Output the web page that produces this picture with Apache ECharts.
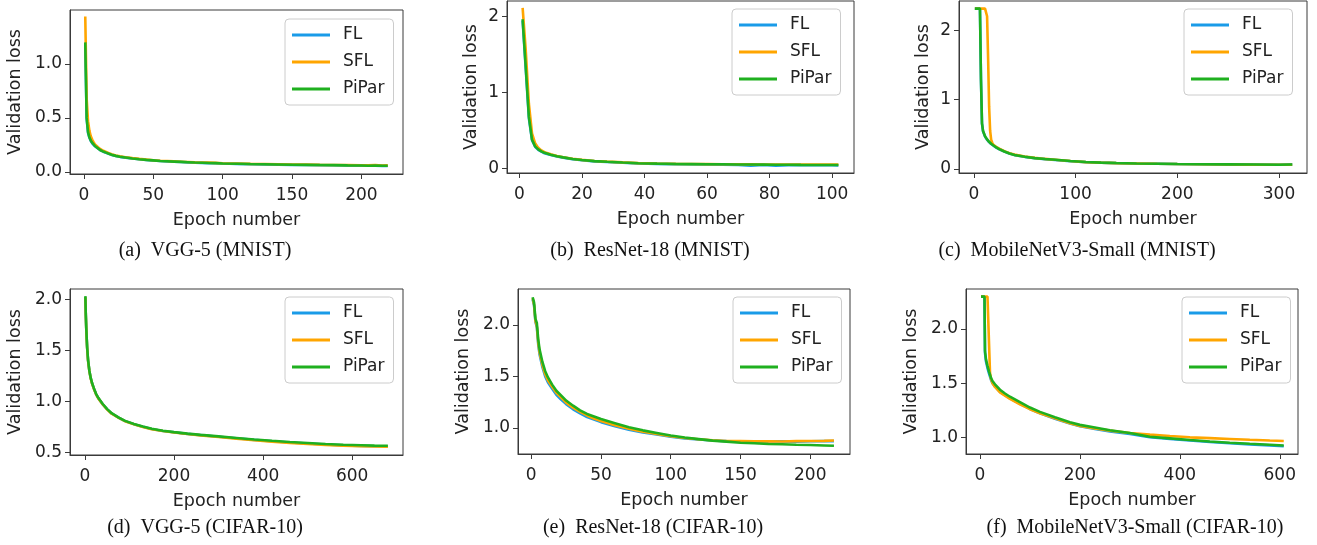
<!DOCTYPE html>
<html><head><meta charset="utf-8">
<script src="https://cdn.jsdelivr.net/npm/echarts@6/dist/echarts.min.js"></script>
<style>html,body{margin:0;padding:0;background:#fff}#c{width:1317px;height:545px}</style>
</head><body><div id="c"></div>
<script>
// ---------- (a) VGG-5 (MNIST) ----------
const aEpoch = [1,2,3,4,5,6,7,8,10,12,14,16,18,20,23,26,30,35,40,45,50,55,60,65,70,75,80,85,90,95,100,110,120,130,140,150,160,170,180,190,200,205,210,215,219];
const aFL    = [1.18,0.49,0.36,0.315,0.285,0.265,0.25,0.237,0.218,0.199,0.187,0.177,0.167,0.157,0.147,0.139,0.132,0.123,0.116,0.11,0.105,0.1,0.097,0.094,0.091,0.088,0.085,0.083,0.081,0.08,0.077,0.074,0.071,0.069,0.067,0.065,0.064,0.062,0.061,0.059,0.058,0.056,0.057,0.055,0.054];
const aSFL   = [1.44,0.68,0.47,0.38,0.33,0.30,0.275,0.255,0.23,0.21,0.195,0.184,0.173,0.163,0.152,0.144,0.136,0.127,0.12,0.114,0.108,0.103,0.1,0.097,0.094,0.091,0.088,0.086,0.085,0.083,0.08,0.077,0.074,0.072,0.07,0.068,0.067,0.065,0.064,0.063,0.061,0.06,0.062,0.059,0.06];
const aPiPar = [1.20,0.50,0.37,0.32,0.29,0.27,0.255,0.24,0.22,0.20,0.188,0.178,0.168,0.158,0.148,0.14,0.133,0.124,0.117,0.111,0.106,0.101,0.098,0.095,0.092,0.089,0.086,0.084,0.082,0.081,0.078,0.075,0.072,0.07,0.068,0.066,0.065,0.063,0.062,0.06,0.059,0.057,0.058,0.056,0.056];
const aXTicks = [0,50,100,150,200];
const aYTicks = [0,0.5,1.0];

// ---------- (b) ResNet-18 (MNIST) ----------
const bEpoch = [1,2,3,4,5,6,7,8,10,12,14,17,20,24,28,33,38,44,50,55,60,65,70,74,78,82,86,90,95,100,102];
const bFL    = [1.94,1.3,0.66,0.37,0.285,0.245,0.22,0.2,0.176,0.157,0.142,0.122,0.107,0.093,0.084,0.074,0.066,0.06,0.056,0.054,0.052,0.05,0.046,0.036,0.047,0.035,0.044,0.043,0.042,0.041,0.04];
const bSFL   = [2.11,1.55,0.85,0.46,0.33,0.27,0.237,0.213,0.185,0.164,0.148,0.128,0.112,0.098,0.089,0.079,0.07,0.064,0.06,0.058,0.057,0.055,0.054,0.053,0.052,0.051,0.05,0.051,0.05,0.05,0.05];
const bPiPar = [1.96,1.33,0.68,0.38,0.29,0.25,0.225,0.205,0.18,0.16,0.145,0.125,0.11,0.096,0.087,0.077,0.069,0.063,0.059,0.057,0.055,0.054,0.052,0.051,0.05,0.049,0.048,0.047,0.046,0.046,0.045];
const bXTicks = [0,20,40,60,80,100];
const bYTicks = [0,1,2];

// ---------- (c) MobileNetV3-Small (MNIST) ----------
const cEpoch = [1,3,6,7,8,9,11,12,13,14,15,16,17,18,19,20,22,25,30,35,40,50,60,70,80,95,110,125,140,160,180,200,225,250,275,300,313];
const cFL    = [2.31,2.31,2.31,1.28,0.65,0.54,0.465,0.44,0.42,0.4,0.385,0.37,0.358,0.346,0.336,0.326,0.306,0.282,0.248,0.22,0.198,0.173,0.153,0.14,0.128,0.11,0.097,0.089,0.083,0.077,0.073,0.069,0.066,0.064,0.061,0.059,0.064];
const cSFL   = [2.31,2.31,2.31,2.31,2.31,2.31,2.31,2.30,2.2,1.6,0.9,0.55,0.42,0.38,0.35,0.335,0.315,0.29,0.255,0.226,0.205,0.178,0.158,0.143,0.132,0.113,0.097,0.089,0.083,0.078,0.073,0.069,0.066,0.063,0.06,0.058,0.058];
const cPiPar = [2.31,2.31,2.31,1.30,0.66,0.55,0.47,0.445,0.425,0.405,0.39,0.375,0.362,0.35,0.34,0.33,0.31,0.285,0.25,0.222,0.2,0.175,0.155,0.142,0.13,0.112,0.098,0.09,0.084,0.078,0.074,0.07,0.067,0.065,0.062,0.06,0.063];
const cXTicks = [0,100,200,300];
const cYTicks = [0,1,2];

// ---------- (d) VGG-5 (CIFAR-10) ----------
const dEpoch = [1,2,3,4,5,7,10,13,16,20,25,30,40,50,60,75,90,110,130,150,175,200,230,260,300,340,380,420,460,500,540,580,620,650,680];
const dFL    = [2.02,1.84,1.715,1.615,1.525,1.405,1.298,1.228,1.178,1.128,1.072,1.032,0.972,0.922,0.882,0.843,0.808,0.778,0.752,0.73,0.711,0.698,0.683,0.67,0.655,0.64,0.624,0.61,0.598,0.588,0.578,0.57,0.565,0.562,0.56];
const dSFL   = [2.02,1.84,1.71,1.61,1.52,1.40,1.295,1.225,1.175,1.125,1.07,1.03,0.97,0.92,0.88,0.842,0.807,0.776,0.75,0.728,0.71,0.696,0.681,0.668,0.652,0.636,0.62,0.607,0.594,0.584,0.574,0.567,0.562,0.56,0.558];
const dPiPar = [2.03,1.85,1.72,1.62,1.53,1.41,1.30,1.23,1.18,1.13,1.075,1.035,0.975,0.925,0.885,0.845,0.81,0.78,0.755,0.732,0.713,0.70,0.685,0.673,0.658,0.643,0.628,0.615,0.603,0.594,0.584,0.577,0.572,0.568,0.566];
const dXTicks = [0,200,400,600];
const dYTicks = [0.5,1.0,1.5,2.0];

// ---------- (e) ResNet-18 (CIFAR-10) ----------
const eEpoch = [1,2,3,4,5,6,8,10,12,15,18,21,25,30,35,40,45,50,60,70,80,90,100,110,120,130,140,150,160,170,180,190,200,210,217];
const eFL    = [2.25,2.19,2.03,1.98,1.81,1.71,1.59,1.5,1.44,1.38,1.32,1.28,1.23,1.18,1.14,1.105,1.08,1.055,1.015,0.98,0.955,0.935,0.912,0.897,0.886,0.876,0.87,0.868,0.865,0.866,0.868,0.864,0.869,0.871,0.87];
const eSFL   = [2.26,2.2,2.04,1.99,1.83,1.73,1.61,1.52,1.46,1.4,1.34,1.3,1.245,1.195,1.155,1.12,1.09,1.065,1.025,0.99,0.962,0.94,0.917,0.9,0.888,0.878,0.872,0.87,0.868,0.869,0.866,0.87,0.872,0.873,0.877];
const ePiPar = [2.27,2.22,2.06,2.02,1.86,1.76,1.64,1.55,1.49,1.42,1.36,1.32,1.265,1.215,1.17,1.135,1.11,1.085,1.045,1.005,0.975,0.95,0.925,0.905,0.89,0.875,0.865,0.855,0.85,0.843,0.84,0.835,0.832,0.828,0.825];
const eXTicks = [0,50,100,150,200];
const eYTicks = [1.0,1.5,2.0];

// ---------- (f) MobileNetV3-Small (CIFAR-10) ----------
const fEpoch = [2,5,9,10,12,15,18,20,22,25,30,40,50,60,80,100,120,150,180,200,230,260,300,340,380,420,460,500,540,580,608];
const fFL    = [2.30,2.30,2.30,1.78,1.70,1.64,1.59,1.56,1.53,1.50,1.47,1.42,1.39,1.36,1.31,1.262,1.222,1.172,1.128,1.103,1.078,1.055,1.03,1.0,0.985,0.97,0.957,0.945,0.935,0.926,0.918];
const fSFL   = [2.30,2.30,2.30,2.30,2.30,2.30,2.30,1.60,1.54,1.5,1.465,1.415,1.385,1.355,1.305,1.26,1.222,1.175,1.13,1.105,1.082,1.062,1.04,1.025,1.012,1.0,0.993,0.985,0.977,0.97,0.966];
const fPiPar = [2.30,2.30,2.30,1.80,1.72,1.66,1.61,1.58,1.55,1.52,1.49,1.44,1.405,1.375,1.325,1.275,1.235,1.185,1.14,1.115,1.09,1.065,1.04,1.005,0.99,0.975,0.962,0.95,0.94,0.932,0.924];
const fXTicks = [0,200,400,600];
const fYTicks = [1.0,1.5,2.0];

const seriesNames = ['FL','SFL','PiPar'];
const captions = ['(a)  VGG-5 (MNIST)','(b)  ResNet-18 (MNIST)','(c)  MobileNetV3-Small (MNIST)','(d)  VGG-5 (CIFAR-10)','(e)  ResNet-18 (CIFAR-10)','(f)  MobileNetV3-Small (CIFAR-10)'];
const xTitle = 'Epoch number';
const yTitle = 'Validation loss';

// ---------- layout ----------
const colors = {FL:'#1a9be8', SFL:'#ffa500', PiPar:'#1fb01f'};
const SANS = 'DejaVu Sans';
const panels = [
  {ep:aEpoch, v:[aFL,aSFL,aPiPar], xt:aXTicks, yt:aYTicks, yd:1, g:[70,10,333,164], xr:[-10,230], yr:[-0.02,1.50], lg:[285,19], cap:[205,251]},
  {ep:bEpoch, v:[bFL,bSFL,bPiPar], xt:bXTicks, yt:bYTicks, yd:0, g:[507,1,347,172], xr:[-4,107], yr:[-0.06,2.2], lg:[732,9], cap:[650,251]},
  {ep:cEpoch, v:[cFL,cSFL,cPiPar], xt:cXTicks, yt:cYTicks, yd:0, g:[959,1,348,172], xr:[-14.6,327.5], yr:[-0.06,2.42], lg:[1184,9], cap:[1077,251]},
  {ep:dEpoch, v:[dFL,dSFL,dPiPar], xt:dXTicks, yt:dYTicks, yd:1, g:[70,289,333,166], xr:[-33.5,714], yr:[0.476,2.1], lg:[285,297], cap:[205,528]},
  {ep:eEpoch, v:[eFL,eSFL,ePiPar], xt:eXTicks, yt:eYTicks, yd:1, g:[518,289,332,165], xr:[-9.5,228.5], yr:[0.745,2.35], lg:[733,297], cap:[653,528]},
  {ep:fEpoch, v:[fFL,fSFL,fPiPar], xt:fXTicks, yt:fYTicks, yd:1, g:[966,289,332,165], xr:[-28,636.5], yr:[0.846,2.37], lg:[1182,297], cap:[1135,528]}
];

const grid=[], xAxis=[], yAxis=[], series=[], legend=[], graphic=[];
panels.forEach((p,i)=>{
  grid.push({left:p.g[0], top:p.g[1], width:p.g[2], height:p.g[3], show:true, borderColor:'#3a3a3a', borderWidth:1, backgroundColor:'transparent'});
  xAxis.push({gridIndex:i, type:'value', min:p.xr[0], max:p.xr[1],
    axisLine:{show:true,onZero:false,lineStyle:{color:'#3a3a3a',width:1}},
    axisTick:{show:true,length:5,customValues:p.xt,lineStyle:{color:'#3a3a3a'}},
    axisLabel:{customValues:p.xt,fontSize:17,color:'#222',margin:13,fontFamily:SANS},
    splitLine:{show:false},
    name:xTitle, nameLocation:'middle', nameGap:37, nameTextStyle:{fontSize:17.5,color:'#222',fontFamily:SANS}});
  yAxis.push({gridIndex:i, type:'value', min:p.yr[0], max:p.yr[1],
    axisLine:{show:true,onZero:false,lineStyle:{color:'#3a3a3a',width:1}},
    axisTick:{show:true,length:5,customValues:p.yt,lineStyle:{color:'#3a3a3a'}},
    axisLabel:{customValues:p.yt,fontSize:17,color:'#222',margin:8,fontFamily:SANS,formatter:(v)=>Number(v).toFixed(p.yd)},
    splitLine:{show:false},
    name:yTitle, nameLocation:'middle', nameGap:p.yd?46:27, nameTextStyle:{fontSize:17.5,color:'#222',fontFamily:SANS}});
  seriesNames.forEach((n,k)=>{
    series.push({type:'line', name:n, xAxisIndex:i, yAxisIndex:i, symbol:'none', z:2+k,
      lineStyle:{color:colors[n],width:2.6}, itemStyle:{color:colors[n]},
      data:p.ep.map((e,j)=>[e,p.v[k][j]])});
  });
  legend.push({data:seriesNames, left:p.lg[0], top:p.lg[1], orient:'vertical', icon:'rect', itemWidth:38, itemHeight:3,
    itemGap:7, padding:[6,9,6,7], borderColor:'#cccccc', borderWidth:1, borderRadius:4, backgroundColor:'rgba(255,255,255,0.85)',
    selectedMode:false, textStyle:{fontSize:17,color:'#222',fontFamily:SANS,lineHeight:20,padding:[0,0,0,8]}});
  graphic.push({type:'text', x:p.cap[0], y:p.cap[1], style:{text:captions[i], font:'20px "Liberation Serif"', fill:'#111', textAlign:'center', textVerticalAlign:'middle'}});
});

const chart = echarts.init(document.getElementById('c'), null, {renderer:'canvas'});
chart.setOption({animation:false, backgroundColor:'#fff', grid, xAxis, yAxis, series, legend, graphic});
</script></body></html>
